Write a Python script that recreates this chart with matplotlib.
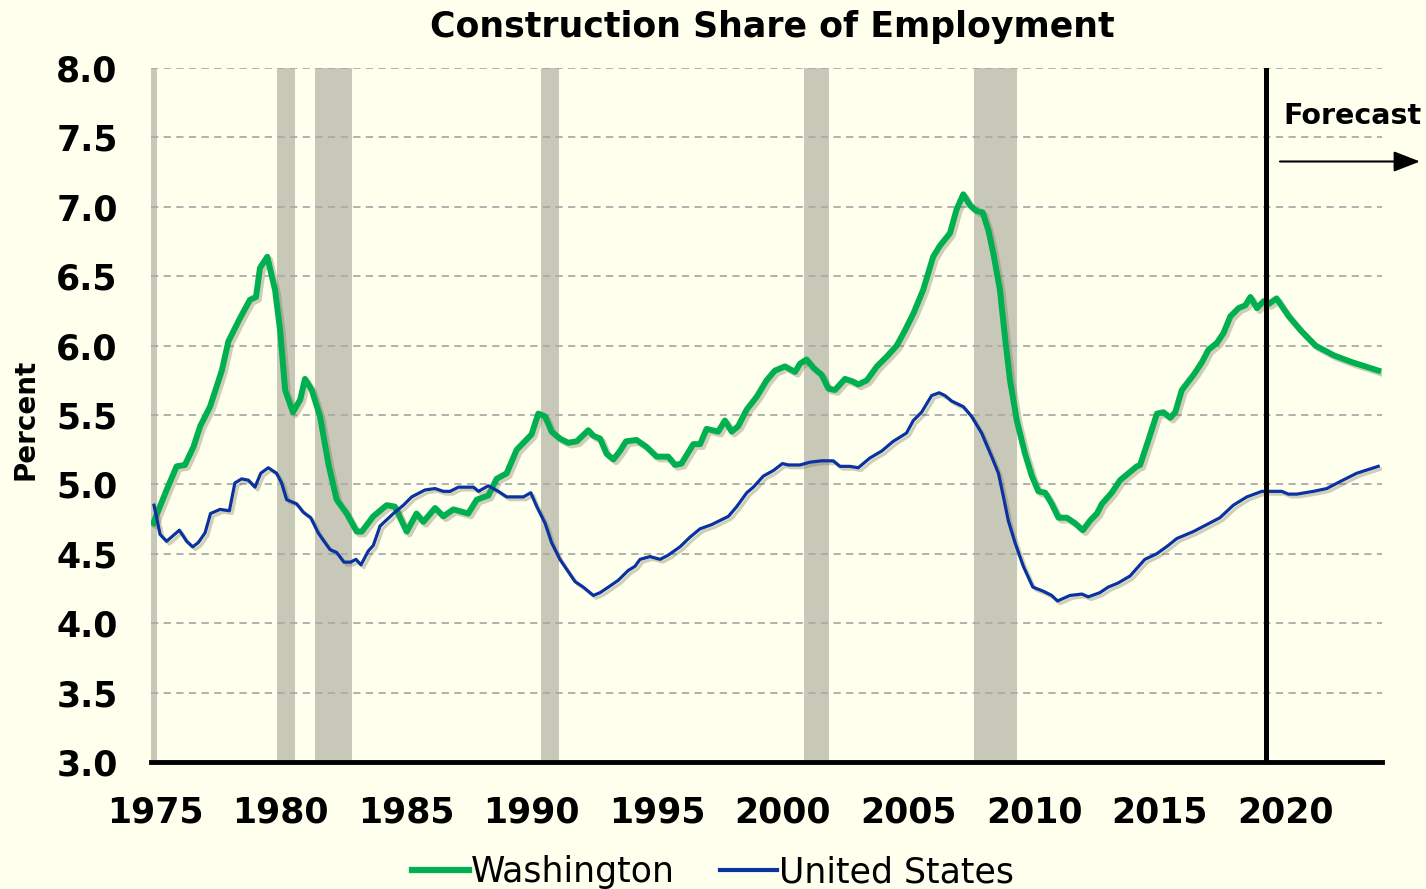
import matplotlib.pyplot as plt
import matplotlib.patheffects as pe
from matplotlib.patches import FancyArrowPatch

# Washington construction share (percent)
wa_years = [1974.93, 1975.46, 1975.86, 1976.19, 1976.53, 1976.80, 1977.19, 1977.66, 1977.92, 1978.39,
            1978.78, 1979.02, 1979.18, 1979.47, 1979.78, 1979.98, 1980.18, 1980.49, 1980.78, 1980.97,
            1981.24, 1981.57, 1981.90, 1982.23, 1982.63, 1983.03, 1983.23, 1983.69, 1984.22, 1984.55,
            1985.02, 1985.41, 1985.68, 1986.15, 1986.48, 1986.88, 1987.47, 1987.81, 1988.27, 1988.60,
            1989.00, 1989.40, 1989.99, 1990.26, 1990.53, 1990.79, 1991.12, 1991.45, 1991.79, 1992.25,
            1992.45, 1992.72, 1992.98, 1993.25, 1993.51, 1993.75, 1994.17, 1994.57, 1994.97, 1995.43,
            1995.70, 1995.96, 1996.43, 1996.70, 1996.96, 1997.42, 1997.69, 1997.96, 1998.22, 1998.56,
            1998.95, 1999.35, 1999.68, 2000.08, 2000.48, 2000.68, 2000.94, 2001.21, 2001.54, 2001.81,
            2002.07, 2002.47, 2002.80, 2003.00, 2003.34, 2003.74, 2004.13, 2004.53, 2004.86, 2005.19,
            2005.58, 2005.98, 2006.25, 2006.65, 2006.91, 2007.18, 2007.45, 2007.71, 2007.95, 2008.18,
            2008.38, 2008.64, 2008.84, 2009.04, 2009.31, 2009.64, 2009.91, 2010.17, 2010.44, 2010.70,
            2010.97, 2011.30, 2011.63, 2011.94, 2012.23, 2012.50, 2012.70, 2013.09, 2013.42, 2013.82,
            2014.09, 2014.22, 2014.55, 2014.89, 2015.15, 2015.42, 2015.62, 2015.88, 2016.35, 2016.68,
            2016.94, 2017.28, 2017.54, 2017.81, 2018.14, 2018.41, 2018.61, 2018.87, 2019.14, 2019.34,
            2019.65, 2020.14, 2020.61, 2021.20, 2021.93, 2022.66, 2023.70]
wa_share = [4.72, 4.96, 5.13, 5.14, 5.27, 5.42, 5.56, 5.82, 6.03, 6.20,
            6.33, 6.35, 6.56, 6.64, 6.40, 6.11, 5.68, 5.52, 5.61, 5.76,
            5.68, 5.49, 5.15, 4.89, 4.79, 4.66, 4.66, 4.77, 4.85, 4.84,
            4.66, 4.79, 4.73, 4.83, 4.77, 4.82, 4.79, 4.89, 4.92, 5.04,
            5.08, 5.25, 5.36, 5.51, 5.49, 5.38, 5.33, 5.30, 5.31, 5.39,
            5.35, 5.33, 5.22, 5.18, 5.24, 5.31, 5.32, 5.27, 5.20, 5.20,
            5.14, 5.15, 5.29, 5.29, 5.40, 5.38, 5.46, 5.38, 5.42, 5.54,
            5.63, 5.75, 5.82, 5.85, 5.81, 5.87, 5.90, 5.84, 5.79, 5.69,
            5.68, 5.76, 5.74, 5.72, 5.75, 5.85, 5.92, 6.00, 6.11, 6.23,
            6.40, 6.64, 6.72, 6.81, 6.98, 7.09, 7.01, 6.97, 6.96, 6.83,
            6.66, 6.40, 6.06, 5.75, 5.46, 5.22, 5.06, 4.95, 4.94, 4.86,
            4.76, 4.76, 4.72, 4.67, 4.74, 4.79, 4.86, 4.94, 5.03, 5.09,
            5.13, 5.14, 5.32, 5.51, 5.52, 5.48, 5.52, 5.68, 5.79, 5.88,
            5.97, 6.02, 6.09, 6.21, 6.27, 6.29, 6.35, 6.27, 6.32, 6.30,
            6.34, 6.21, 6.11, 6.00, 5.93, 5.88, 5.82]

# United States construction share (percent)
us_years = [1974.96, 1975.20, 1975.46, 1975.97, 1976.26, 1976.50, 1976.72, 1976.99, 1977.21, 1977.59,
            1977.96, 1978.18, 1978.45, 1978.72, 1978.98, 1979.21, 1979.51, 1979.84, 1980.04, 1980.24,
            1980.64, 1980.90, 1981.20, 1981.50, 1981.77, 1981.97, 1982.23, 1982.52, 1982.79, 1983.00,
            1983.20, 1983.49, 1983.69, 1983.96, 1984.49, 1984.89, 1985.22, 1985.75, 1986.15, 1986.48,
            1986.75, 1987.08, 1987.41, 1987.68, 1987.88, 1988.27, 1988.67, 1989.00, 1989.40, 1989.67,
            1989.96, 1990.20, 1990.53, 1990.79, 1991.12, 1991.72, 1992.05, 1992.45, 1992.72, 1993.05,
            1993.45, 1993.84, 1994.11, 1994.31, 1994.71, 1995.11, 1995.43, 1995.90, 1996.30, 1996.70,
            1997.16, 1997.50, 1997.83, 1998.16, 1998.56, 1998.82, 1999.22, 1999.62, 1999.98, 2000.22,
            2000.68, 2001.08, 2001.54, 2002.00, 2002.27, 2002.67, 2003.00, 2003.46, 2003.93, 2004.39,
            2004.92, 2005.19, 2005.52, 2005.92, 2006.22, 2006.45, 2006.72, 2007.18, 2007.51, 2007.91,
            2008.31, 2008.58, 2008.78, 2008.97, 2009.24, 2009.57, 2009.95, 2010.37, 2010.70, 2010.93,
            2011.43, 2011.90, 2012.16, 2012.62, 2012.95, 2013.35, 2013.82, 2014.41, 2014.88, 2015.34,
            2015.68, 2016.34, 2016.87, 2017.40, 2017.93, 2018.47, 2019.07, 2019.40, 2019.86, 2020.12,
            2020.46, 2021.12, 2021.65, 2022.18, 2022.84, 2023.70]
us_share = [4.85, 4.64, 4.59, 4.67, 4.59, 4.55, 4.58, 4.65, 4.79, 4.82,
            4.81, 5.01, 5.04, 5.03, 4.98, 5.08, 5.12, 5.08, 5.01, 4.89,
            4.86, 4.80, 4.76, 4.65, 4.58, 4.53, 4.51, 4.44, 4.44, 4.46,
            4.42, 4.52, 4.56, 4.70, 4.79, 4.85, 4.91, 4.96, 4.97, 4.95,
            4.95, 4.98, 4.98, 4.98, 4.95, 4.99, 4.95, 4.91, 4.91, 4.91,
            4.94, 4.84, 4.72, 4.58, 4.46, 4.30, 4.26, 4.20, 4.22, 4.26,
            4.31, 4.38, 4.41, 4.46, 4.48, 4.46, 4.49, 4.55, 4.62, 4.68,
            4.71, 4.74, 4.77, 4.84, 4.94, 4.98, 5.06, 5.10, 5.15, 5.14,
            5.14, 5.16, 5.17, 5.17, 5.13, 5.13, 5.12, 5.19, 5.24, 5.31,
            5.37, 5.46, 5.52, 5.64, 5.66, 5.64, 5.60, 5.56, 5.49, 5.37,
            5.20, 5.08, 4.91, 4.74, 4.58, 4.41, 4.26, 4.23, 4.20, 4.16,
            4.20, 4.21, 4.19, 4.22, 4.26, 4.29, 4.34, 4.46, 4.50, 4.56,
            4.61, 4.66, 4.71, 4.76, 4.85, 4.91, 4.95, 4.95, 4.95, 4.93,
            4.93, 4.95, 4.97, 5.02, 5.08, 5.13]

recession_start = [1974.80, 1979.86, 1981.37, 1990.37, 2000.84, 2007.60]
recession_end = [1975.08, 1980.57, 1982.84, 1991.08, 2001.83, 2009.32]
forecast_start = 2019.23

year_ticks = [1975, 1980, 1985, 1990, 1995, 2000, 2005, 2010, 2015, 2020]
pct_ticks = [3.0, 3.5, 4.0, 4.5, 5.0, 5.5, 6.0, 6.5, 7.0, 7.5, 8.0]

bg = '#FFFFEE'
plt.rcParams['font.family'] = ['DejaVu Sans']

W, H = 1426, 889
fig = plt.figure(figsize=(W / 100, H / 100), dpi=100, facecolor=bg)
ax = fig.add_axes([151 / W, 1 - 762 / H, (1382 - 151) / W, (762 - 68) / H], facecolor=bg)

for s, e in zip(recession_start, recession_end):
    ax.axvspan(s, e, color='#C8C8B8', lw=0, zorder=1)

for v in pct_ticks:
    ax.axhline(v, color='#AAAAAA', lw=1.3, ls=(0, (4, 3)), zorder=2)

shadow = [pe.SimpleLineShadow(offset=(2, -2), shadow_color='#777755', alpha=0.35), pe.Normal()]
ax.plot(wa_years, wa_share, color='#00B050', lw=4.3, label='Washington',
        zorder=4, solid_joinstyle='round', path_effects=shadow)
ax.plot(us_years, us_share, color='#0A32A0', lw=2.3, label='United States',
        zorder=4, solid_joinstyle='round', path_effects=shadow)

ax.axvline(forecast_start, color='black', lw=3.6, zorder=5)

ax.set_xlim(1974.84, 2023.85)
ax.set_ylim(3.0, 8.0)
ax.set_xticks(year_ticks)
ax.set_xticklabels([str(y) for y in year_ticks], fontsize=25, fontweight='bold')
ax.set_yticks(pct_ticks)
ax.set_yticklabels(['%.1f' % v for v in pct_ticks], fontsize=25, fontweight='bold')
ax.tick_params(axis='both', length=0)
ax.tick_params(axis='x', pad=24)
ax.tick_params(axis='y', pad=24)

for side in ['top', 'right', 'left']:
    ax.spines[side].set_visible(False)
ax.spines['bottom'].set_linewidth(3.5)
ax.spines['bottom'].set_zorder(6)

# ylabel placed by hand, right edge of the rotated text near x=37px
fig.text(25 / W, 1 - 419 / H, 'Percent', fontsize=20, fontweight='bold',
         rotation=90, ha='center', va='center')

fig.text(0.5 * (428 + 1117) / W, 1 - 27 / H, 'Construction Share of Employment',
         fontsize=25, fontweight='bold', ha='center', va='center')

fig.text(1283 / W, 1 - 116 / H, 'Forecast', fontsize=20.5, fontweight='bold',
         ha='left', va='center')
fig.patches.append(FancyArrowPatch(
    (1280 / W, 1 - 161.5 / H), (1420 / W, 1 - 161.5 / H),
    transform=fig.transFigure, arrowstyle='-|>,head_length=0.9,head_width=0.35',
    mutation_scale=18, color='black', lw=1.5, shrinkA=0, shrinkB=0))

leg = fig.legend(loc='center', bbox_to_anchor=(0.5, 0.019), ncol=2, frameon=False,
                 fontsize=25, handlelength=1.65, handletextpad=0.05, columnspacing=1.3)
for line in leg.get_lines():
    line.set_path_effects([])
leg.get_lines()[0].set_linewidth(4.5)
leg.get_lines()[1].set_linewidth(3)

fig.savefig('out.png', dpi=100, facecolor=bg)
